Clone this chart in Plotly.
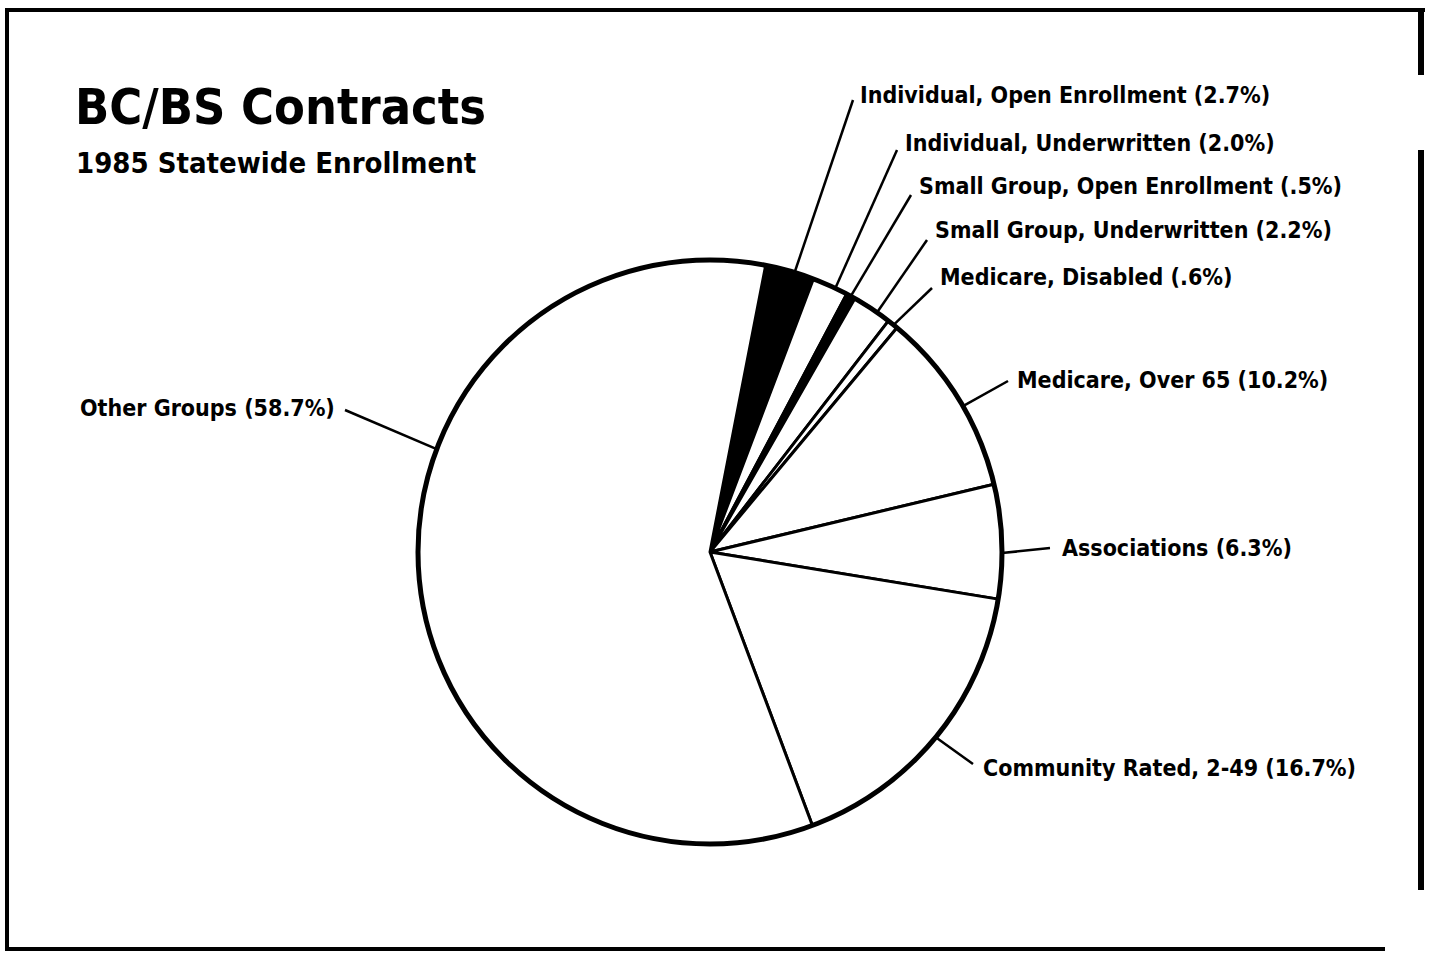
import math
import plotly.graph_objects as go

# ---------------- data ----------------
labels = [
    "Individual, Open Enrollment",
    "Individual, Underwritten",
    "Small Group, Open Enrollment",
    "Small Group, Underwritten",
    "Medicare, Disabled",
    "Medicare, Over 65",
    "Associations",
    "Community Rated, 2-49",
    "Other Groups",
]
values = [2.7, 2.0, 0.5, 2.2, 0.6, 10.2, 6.3, 16.7, 58.7]
value_text = ["2.7%", "2.0%", ".5%", "2.2%", ".6%", "10.2%", "6.3%", "16.7%", "58.7%"]
fills = ["black", "white", "black", "white", "white", "white", "white", "white", "white"]

# ---------------- layout constants (pixels) ----------------
W, H = 1430, 954
CX, CY, R = 710, 552, 292
ROT = 11
FONT = "'Liberation Sans Narrow', 'DejaVu Sans Condensed', 'Arial Narrow', 'Roboto Condensed', sans-serif"

# label anchor (x, y, xanchor) and leader start point, leader fraction within slice
label_pos = [
    (858, 95, "left"), (903, 143, "left"), (917, 186, "left"), (933, 230, "left"),
    (938, 277, "left"), (1015, 380, "left"), (1060, 548, "left"), (981, 768, "left"),
    (337, 408, "right"),
]
leader_start = [
    (853, 100), (897, 150), (911, 195), (927, 240), (932, 288),
    (1008, 381), (1050, 548), (973, 764), (345, 410),
]
leader_frac = [0.6, 0.65, 0.5, 0.65, 0.6, 0.55, 0.6, 0.5, 0.62]


def px(x):
    return x / W


def py(y):
    return 1 - y / H


fig = go.Figure()
fig.add_trace(go.Pie(
    labels=labels,
    values=values,
    sort=False,
    direction="clockwise",
    rotation=ROT,
    textinfo="none",
    hoverinfo="skip",
    showlegend=False,
    marker=dict(colors=fills, line=dict(color="black", width=3)),
    domain=dict(x=[px(CX - R), px(CX + R)], y=[py(CY + R), py(CY - R)]),
))

shapes = []
annotations = []

# outer circle (thicker rim)
shapes.append(dict(type="circle", xref="paper", yref="paper",
                   x0=px(CX - R), x1=px(CX + R), y0=py(CY + R), y1=py(CY - R),
                   line=dict(color="black", width=5), layer="above"))

total = sum(values)
cum = 0.0
for i, v in enumerate(values):
    start = ROT + 360 * cum / total
    span = 360 * v / total
    ang = math.radians(start + span * leader_frac[i])
    ex = CX + R * math.sin(ang)
    ey = CY - R * math.cos(ang)
    sx, sy = leader_start[i]
    shapes.append(dict(type="line", xref="paper", yref="paper",
                       x0=px(sx), y0=py(sy), x1=px(ex), y1=py(ey),
                       line=dict(color="black", width=2.5), layer="above"))
    lx, ly, anc = label_pos[i]
    annotations.append(dict(
        x=px(lx), y=py(ly), xref="paper", yref="paper",
        text=f"<b>{labels[i]} ({value_text[i]})</b>",
        showarrow=False, xanchor=anc, yanchor="middle",
        font=dict(family=FONT, size=23, color="black"),
    ))
    cum += v

# titles
annotations.append(dict(x=px(73), y=py(107), xref="paper", yref="paper",
                        text="<b>BC/BS Contracts</b>", showarrow=False,
                        xanchor="left", yanchor="middle",
                        font=dict(family=FONT, size=50, color="black")))
annotations.append(dict(x=px(74), y=py(163), xref="paper", yref="paper",
                        text="<b>1985 Statewide Enrollment</b>", showarrow=False,
                        xanchor="left", yanchor="middle",
                        font=dict(family=FONT, size=29, color="black")))

# frame (scanned border, right edge broken)
frame = [
    ((5, 10), (1425, 10), 4),
    ((7, 8), (7, 951), 4),
    ((5, 949), (1385, 949), 4),
    ((1421, 8), (1421, 75), 6),
    ((1421, 150), (1421, 890), 6),
]
for (x0, y0), (x1, y1), w in frame:
    shapes.append(dict(type="line", xref="paper", yref="paper",
                       x0=px(x0), y0=py(y0), x1=px(x1), y1=py(y1),
                       line=dict(color="black", width=w), layer="above"))

fig.update_layout(
    width=W, height=H,
    margin=dict(l=0, r=0, t=0, b=0),
    paper_bgcolor="white", plot_bgcolor="white",
    shapes=shapes, annotations=annotations,
    showlegend=False,
)

fig.write_html("out.html")
